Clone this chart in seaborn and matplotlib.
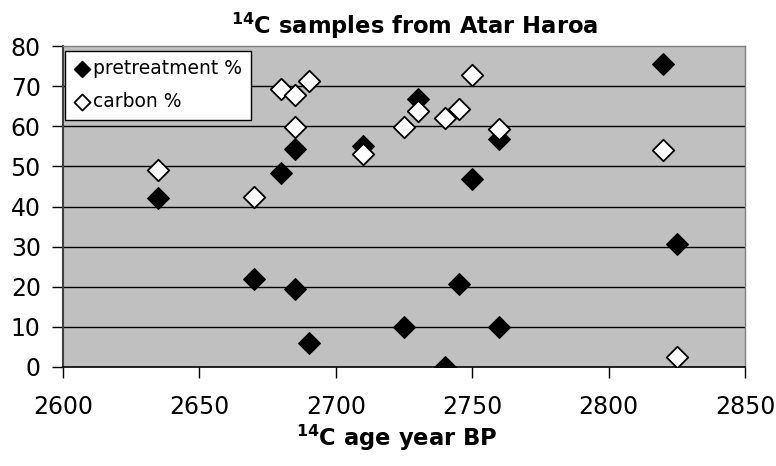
import matplotlib
matplotlib.use("Agg")
import matplotlib.pyplot as plt
import seaborn as sns
import pandas as pd

# Data
pre_age = [2635, 2670, 2680, 2685, 2685, 2690, 2710, 2725, 2730, 2740, 2745, 2750, 2760, 2760, 2820, 2825]
pre_pct = [42, 22, 48.3, 54.4, 19.5, 6, 55, 9.9, 66.8, 0, 20.6, 46.9, 56.7, 9.9, 75.6, 30.6]
carb_age = [2635, 2670, 2680, 2685, 2685, 2690, 2710, 2725, 2730, 2740, 2745, 2750, 2760, 2820, 2825]
carb_pct = [49.1, 42.3, 69.2, 67.9, 59.9, 71.3, 53.1, 59.7, 63.7, 62.1, 64.2, 72.7, 59.3, 54, 2.4]

x_ticks = [2600, 2650, 2700, 2750, 2800, 2850]
y_ticks = [0, 10, 20, 30, 40, 50, 60, 70, 80]

sns.set_style("white")
plt.rcParams['font.family'] = ['DejaVu Sans']
plt.rcParams['mathtext.fontset'] = 'dejavusans'
plt.rcParams['mathtext.default'] = 'bf'
for k in ['text.color', 'axes.labelcolor', 'xtick.color', 'ytick.color']:
    plt.rcParams[k] = 'black'

df_pre = pd.DataFrame({"age": pre_age, "pct": pre_pct})
df_carb = pd.DataFrame({"age": carb_age, "pct": carb_pct})

fig = plt.figure(figsize=(7.76, 4.66), dpi=100)
ax = fig.add_axes([63/776, 1-367/466, (745-63)/776, (367-46)/466])
ax.set_facecolor("#c0c0c0")

for y in y_ticks[1:-1]:
    ax.axhline(y, color="black", lw=1.0, zorder=1)

sns.scatterplot(data=df_pre, x="age", y="pct", ax=ax, marker="D", s=120,
                color="black", edgecolor="black", linewidth=1.0, zorder=3,
                label="pretreatment %")
sns.scatterplot(data=df_carb, x="age", y="pct", ax=ax, marker="D", s=120,
                color="white", edgecolor="black", linewidth=1.3, zorder=4,
                label="carbon %")

ax.set_xlim(2600, 2850)
ax.set_ylim(0, 80)
ax.set_xticks(x_ticks)
ax.set_yticks(y_ticks)
ax.tick_params(axis="x", direction="out", length=8, width=1, pad=12, labelsize=17, bottom=True)
ax.tick_params(axis="y", direction="out", length=8, width=1, pad=8, labelsize=17, left=True)

for side in ["top", "right"]:
    ax.spines[side].set_color("#808080")
    ax.spines[side].set_linewidth(1.0)
ax.spines["left"].set_color("#404040")
ax.spines["left"].set_linewidth(1.5)
ax.spines["bottom"].set_color("black")
ax.spines["bottom"].set_linewidth(1.2)

ax.set_title(r"$^{14}$C samples from Atar Haroa", fontsize=16.3, fontweight="bold",
             pad=9, x=0.516)
ax.set_xlabel(r"$^{14}$C age year BP", fontsize=16.3, fontweight="bold", labelpad=3, x=0.49)
ax.set_ylabel("")

leg = ax.legend(loc="upper left", bbox_to_anchor=(0.003, 0.985), frameon=True, fancybox=False,
                edgecolor="black", framealpha=1, fontsize=13.5, handletextpad=0.15,
                handlelength=0.9, borderpad=0.45, labelspacing=0.75, markerscale=0.75,
                borderaxespad=0)
leg.get_frame().set_linewidth(1.0)

fig.savefig("out.png", dpi=100)
